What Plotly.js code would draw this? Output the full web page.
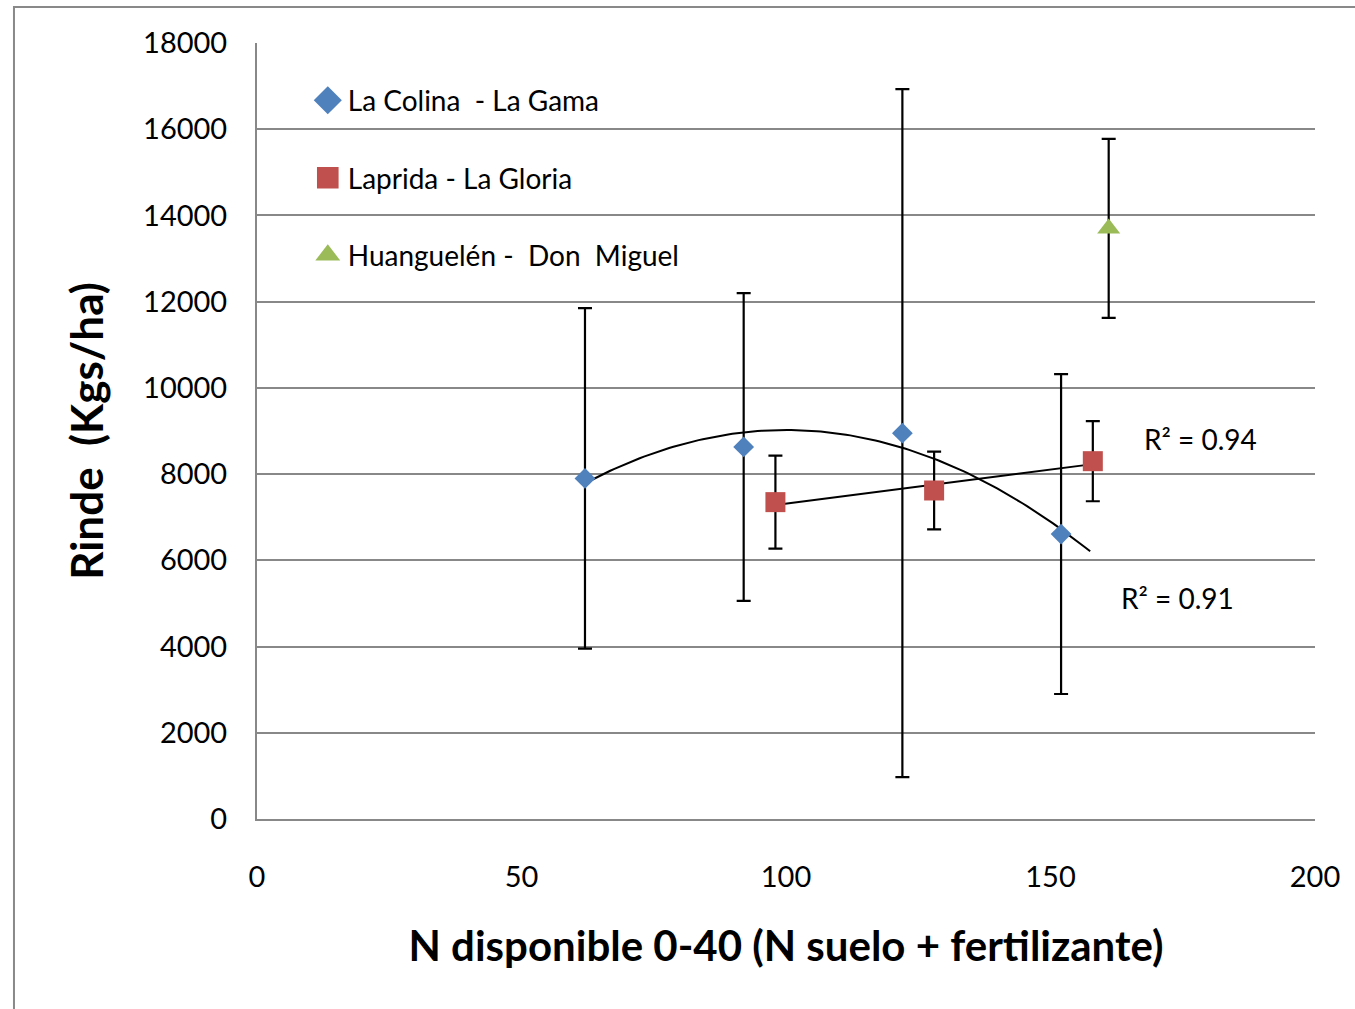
<!DOCTYPE html>
<html>
<head>
<meta charset="utf-8">
<script src="https://cdn.plot.ly/plotly-3.0.1.min.js"></script>
<style>html,body{margin:0;padding:0;background:#fff;}#chart{width:1355px;height:1009px;}</style>
</head>
<body>
<div id="chart"></div>
<script>
// ---- data ----
const seriesNames = ["La Colina  - La Gama", "Laprida - La Gloria", "Huanguelén -  Don  Miguel"];
const colinaX = [62, 92, 122, 152];
const colinaY = [7900, 8630, 8950, 6610];
const colinaErr = [3950, 3570, 7980, 3710];
const lapridaX = [98, 128, 158];
const lapridaY = [7350, 7620, 8300];
const lapridaErr = [1080, 900, 930];
const huangX = [161];
const huangY = [13700];
const huangErr = [2075];
const xTicks = [0, 50, 100, 150, 200];
const yTicks = [0, 2000, 4000, 6000, 8000, 10000, 12000, 14000, 16000, 18000];
const yTickText = ["0", "2000", "4000", "6000", "8000", "10000", "12000", "14000", "16000", "18000"];
const r2Labels = ["R² = 0.94", "R² = 0.91"];
const colinaForecast = 5.5;

// ---- least-squares helpers ----
function solve3(A, b) {
  const M = A.map((r, i) => r.concat([b[i]]));
  const n = 3;
  for (let i = 0; i < n; i++) {
    let p = i;
    for (let k = i + 1; k < n; k++) if (Math.abs(M[k][i]) > Math.abs(M[p][i])) p = k;
    [M[i], M[p]] = [M[p], M[i]];
    for (let k = i + 1; k < n; k++) {
      const f = M[k][i] / M[i][i];
      for (let j = i; j <= n; j++) M[k][j] -= f * M[i][j];
    }
  }
  const x = [0, 0, 0];
  for (let i = n - 1; i >= 0; i--) {
    let s = M[i][n];
    for (let j = i + 1; j < n; j++) s -= M[i][j] * x[j];
    x[i] = s / M[i][i];
  }
  return x;
}
function polyFit2(xs, ys) {
  const S = k => xs.reduce((a, x) => a + Math.pow(x, k), 0);
  const T = k => xs.reduce((a, x, i) => a + Math.pow(x, k) * ys[i], 0);
  const A = [[S(0), S(1), S(2)], [S(1), S(2), S(3)], [S(2), S(3), S(4)]];
  return solve3(A, [T(0), T(1), T(2)]);
}
function linFit(xs, ys) {
  const n = xs.length;
  const mx = xs.reduce((a, b) => a + b, 0) / n;
  const my = ys.reduce((a, b) => a + b, 0) / n;
  let sxy = 0, sxx = 0;
  xs.forEach((x, i) => { sxy += (x - mx) * (ys[i] - my); sxx += (x - mx) * (x - mx); });
  const m = sxy / sxx;
  return [my - m * mx, m];
}

const qc = polyFit2(colinaX, colinaY);
const qx = [], qy = [];
const x0 = Math.min(...colinaX), x1 = Math.max(...colinaX) + colinaForecast;
for (let i = 0; i <= 120; i++) {
  const x = x0 + (x1 - x0) * i / 120;
  qx.push(x); qy.push(qc[0] + qc[1] * x + qc[2] * x * x);
}
const lc = linFit(lapridaX, lapridaY);
const lx = [Math.min(...lapridaX), Math.max(...lapridaX)];
const ly = lx.map(x => lc[0] + lc[1] * x);

const FONT = "Lato, 'Open Sans', sans-serif";
const errStyle = (arr) => ({type: 'data', array: arr, visible: true, color: '#000', thickness: 2.2, width: 7});

const traces = [
  {x: qx, y: qy, mode: 'lines', line: {color: '#000', width: 2}, showlegend: false, hoverinfo: 'skip'},
  {x: lx, y: ly, mode: 'lines', line: {color: '#000', width: 2}, showlegend: false, hoverinfo: 'skip'},
  {x: colinaX, y: colinaY, name: seriesNames[0], mode: 'markers', legendgroup: 'a',
   marker: {symbol: 'diamond', size: 16, color: '#4F81BD'}, error_y: errStyle(colinaErr)},
  {x: lapridaX, y: lapridaY, name: seriesNames[1], mode: 'markers', legendgroup: 'b',
   marker: {symbol: 'square', size: 20, color: '#C0504D'}, error_y: errStyle(lapridaErr)},
  {x: huangX, y: huangY, name: seriesNames[2], mode: 'markers', legendgroup: 'c',
   marker: {symbol: 'triangle-up', size: 20, color: '#9BBB59'}, error_y: errStyle(huangErr)}
];

const layout = {
  width: 1355, height: 1009,
  margin: {l: 257, r: 40, t: 43, b: 190},
  paper_bgcolor: '#fff', plot_bgcolor: '#fff',
  font: {family: FONT, color: '#000'},
  showlegend: true,
  legend: {x: 0.048, y: 0.958, xanchor: 'left', yanchor: 'top', bgcolor: 'rgba(0,0,0,0)',
           font: {size: 28, family: FONT}, tracegroupgap: 38, itemwidth: 30},
  xaxis: {
    range: [0, 200], tickvals: xTicks, showgrid: false, zeroline: false,
    showline: true, linecolor: '#888', linewidth: 2,
    ticks: 'outside', ticklen: 31, tickcolor: 'rgba(0,0,0,0)',
    tickfont: {size: 29, family: FONT},
    title: {text: 'N disponible 0-40 (N suelo + fertilizante)', font: {size: 42, family: FONT, weight: 'bold'}, standoff: 40}
  },
  yaxis: {
    range: [0, 18000], tickvals: yTicks, ticktext: yTickText,
    showgrid: true, gridcolor: '#888', gridwidth: 2, zeroline: false,
    showline: true, linecolor: '#888', linewidth: 2,
    ticks: 'outside', ticklen: 22, tickcolor: 'rgba(0,0,0,0)',
    tickfont: {size: 29, family: FONT},
    title: {text: 'Rinde  (Kgs/ha)', font: {size: 44, family: FONT, weight: 'bold'}, standoff: 26}
  },
  annotations: [
    {x: 178.4, y: 8815, xref: 'x', yref: 'y', text: r2Labels[0], showarrow: false, font: {size: 28, family: FONT}},
    {x: 174.1, y: 5126, xref: 'x', yref: 'y', text: r2Labels[1], showarrow: false, font: {size: 28, family: FONT}}
  ],
  shapes: [
    {type: 'rect', xref: 'paper', yref: 'paper', x0: -0.2297, x1: 1.2, y0: -0.4, y1: 1.0464,
     line: {color: '#898989', width: 2}, fillcolor: 'rgba(0,0,0,0)', layer: 'below'}
  ]
};

Plotly.newPlot('chart', traces, layout, {displayModeBar: false, staticPlot: true}).then(function (gd) {
  // enlarge legend symbols to match the reference's bigger legend markers
  gd.querySelectorAll('.legend .legendpoints path.scatterpts').forEach(function (p) {
    const t = p.getAttribute('transform') || '';
    p.setAttribute('transform', t + ' scale(1.35)');
  });
});
</script>
</body>
</html>
